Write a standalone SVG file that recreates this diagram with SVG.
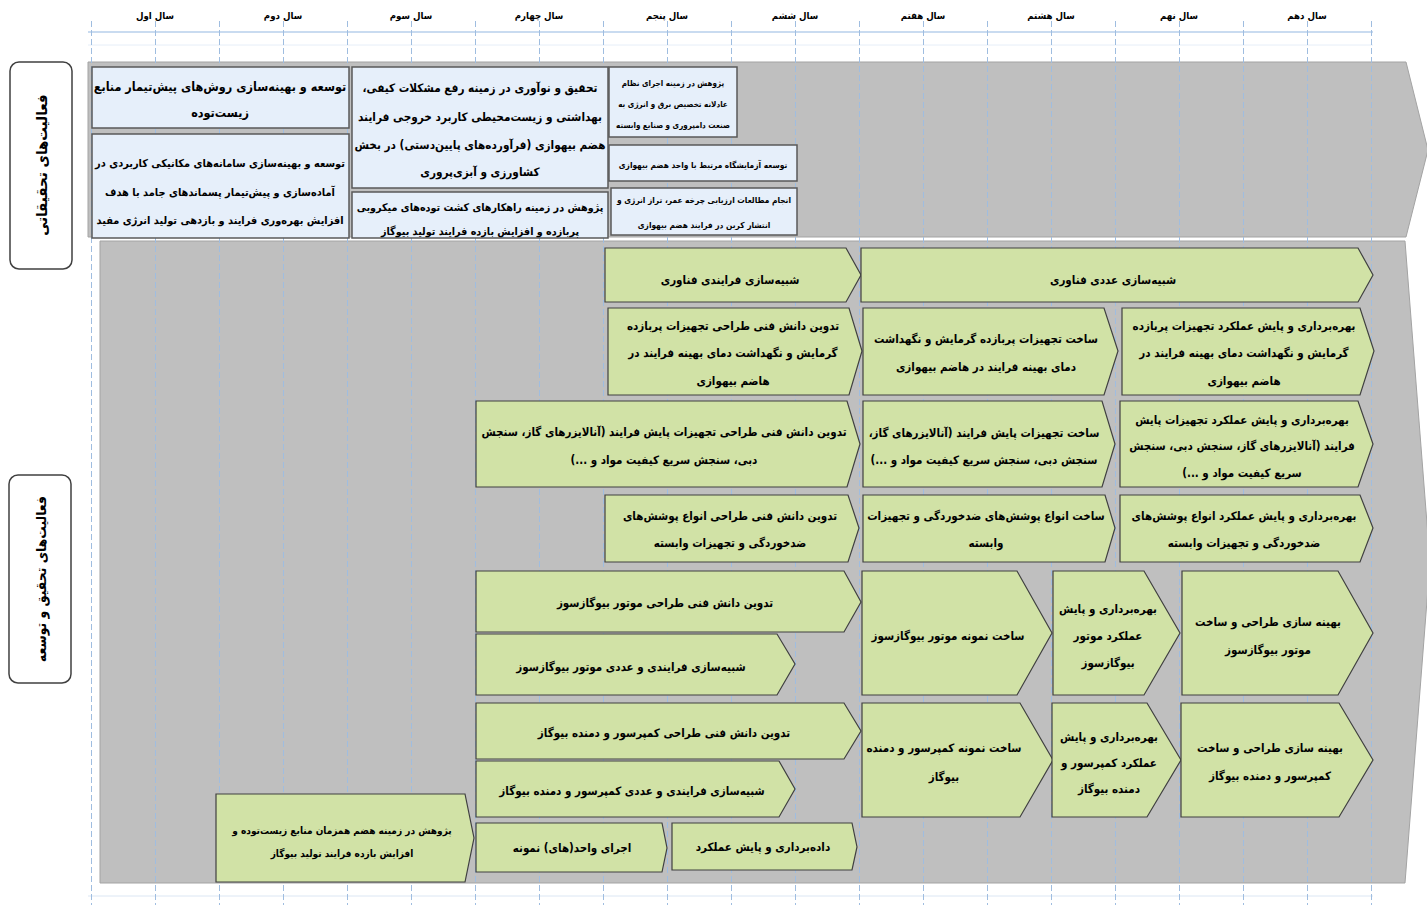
<svg xmlns="http://www.w3.org/2000/svg" width="1427" height="905" viewBox="0 0 1427 905">
<style>
.band{fill:#bfbfbf;stroke:#a3a3a3;stroke-width:1}
.blue{fill:#e6effa;stroke:#595959;stroke-width:1.5}
.green{fill:#d1e2a6;stroke:#404040;stroke-width:1.2}
.lbl{fill:#ffffff;stroke:#404040;stroke-width:1.5}
.t{font-family:'DejaVu Sans Condensed','DejaVu Sans',sans-serif;font-stretch:condensed;font-weight:bold;font-size:11.5px;fill:#000;text-anchor:middle;direction:rtl}
.s{font-size:8px}
.m{font-size:8.3px}
.yr{font-size:9.6px}
.big{font-size:15px}
.big2{font-size:13.8px}
.a{font-size:12.5px}
.b{font-size:10.9px}
.c{font-size:11.7px}
.d{font-size:10.7px}
.p{font-size:10px}
.g{stroke:#9fbde0;stroke-width:1;stroke-dasharray:6 3}
</style>
<rect width="1427" height="905" fill="#ffffff"/>
<g id="bands">
<path class="band" d="M88,62 H1406 L1428,150 L1406,237 H88 Z"/>
<path class="band" d="M100,241 H1405 L1430,562 L1405,883 H100 Z"/>
</g>
<g id="grid">
<line x1="88" y1="32" x2="1373" y2="32" stroke="#c9dbf0" stroke-width="2"/>
<line x1="88" y1="45" x2="1373" y2="45" stroke="#e6eef8" stroke-width="1"/>
<line x1="88" y1="896" x2="1373" y2="896" stroke="#dbe6f3" stroke-width="1"/>
<g class="g">
<line x1="91.5" y1="21" x2="91.5" y2="905"/>
<line x1="155.5" y1="21" x2="155.5" y2="905"/>
<line x1="219.5" y1="21" x2="219.5" y2="905"/>
<line x1="283.5" y1="21" x2="283.5" y2="905"/>
<line x1="347.5" y1="21" x2="347.5" y2="905"/>
<line x1="411.5" y1="21" x2="411.5" y2="905"/>
<line x1="475.5" y1="21" x2="475.5" y2="905"/>
<line x1="539.5" y1="21" x2="539.5" y2="905"/>
<line x1="603.5" y1="21" x2="603.5" y2="905"/>
<line x1="667.5" y1="21" x2="667.5" y2="905"/>
<line x1="731.5" y1="21" x2="731.5" y2="905"/>
<line x1="795.5" y1="21" x2="795.5" y2="905"/>
<line x1="859.5" y1="21" x2="859.5" y2="905"/>
<line x1="923.5" y1="21" x2="923.5" y2="905"/>
<line x1="987.5" y1="21" x2="987.5" y2="905"/>
<line x1="1051.5" y1="21" x2="1051.5" y2="905"/>
<line x1="1115.5" y1="21" x2="1115.5" y2="905"/>
<line x1="1179.5" y1="21" x2="1179.5" y2="905"/>
<line x1="1243.5" y1="21" x2="1243.5" y2="905"/>
<line x1="1307.5" y1="21" x2="1307.5" y2="905"/>
<line x1="1371.5" y1="21" x2="1371.5" y2="905"/>
</g>
</g>
<g id="years" class="t yr">
<text x="155" y="19">سال اول</text>
<text x="283" y="19">سال دوم</text>
<text x="411" y="19">سال سوم</text>
<text x="539" y="19">سال چهارم</text>
<text x="667" y="19">سال پنجم</text>
<text x="795" y="19">سال ششم</text>
<text x="923" y="19">سال هفتم</text>
<text x="1051" y="19">سال هشتم</text>
<text x="1179" y="19">سال نهم</text>
<text x="1307" y="19">سال دهم</text>
</g>
<g id="label-research">
<rect class="lbl" x="10" y="62" width="62" height="207" rx="9"/>
<text class="t big" transform="translate(41,165) rotate(-90)" y="6">فعالیت‌های تحقیقاتی</text>
</g>
<g id="label-rnd">
<rect class="lbl" x="9" y="475" width="62" height="208" rx="9"/>
<text class="t big2" transform="translate(40,579) rotate(-90)" y="6">فعالیت‌های تحقیق و توسعه</text>
</g>
<g id="r1">
<rect class="blue" x="92" y="67" width="257" height="61"/>
<text class="t a" x="220" y="91">توسعه و بهینه‌سازی روش‌های پیش‌تیمار منابع</text>
<text class="t a" x="220" y="117">زیست‌توده</text>
</g>
<g id="r2">
<rect class="blue" x="92" y="134" width="257" height="104"/>
<text class="t b" x="220" y="167">توسعه و بهینه‌سازی سامانه‌های مکانیکی کاربردی در</text>
<text class="t b" x="220" y="196">آماده‌سازی و پیش‌تیمار پسماندهای جامد با هدف</text>
<text class="t b" x="220" y="224">افزایش بهره‌وری فرایند و بازدهی تولید انرژی مفید</text>
</g>
<g id="r3">
<rect class="blue" x="352" y="67" width="256" height="121"/>
<text class="t c" x="480" y="92">تحقیق و نوآوری در زمینه رفع مشکلات کیفی،</text>
<text class="t c" x="480" y="121">بهداشتی و زیست‌محیطی کاربرد خروجی فرایند</text>
<text class="t c" x="480" y="149">هضم بیهوازی (فرآورده‌های پایین‌دستی) در بخش</text>
<text class="t c" x="480" y="176">کشاورزی و آبزی‌پروری</text>
</g>
<g id="r4">
<rect class="blue" x="352" y="192" width="256" height="46"/>
<text class="t d" x="480" y="211">پژوهش در زمینه راهکارهای کشت توده‌های میکروبی</text>
<text class="t d" x="480" y="235">پربازده و افزایش بازده فرایند تولید بیوگاز</text>
</g>
<g id="r5">
<rect class="blue" x="609" y="67" width="128" height="70"/>
<text class="t s" x="673" y="86">پژوهش در زمینه اجرای نظام</text>
<text class="t s" x="673" y="107">عادلانه تخصیص برق و انرژی به</text>
<text class="t s" x="673" y="128">صنعت دامپروری و صنایع وابسته</text>
</g>
<g id="r6">
<rect class="blue" x="609" y="145" width="188" height="36"/>
<text class="t m" x="703" y="168">توسعه آزمایشگاه مرتبط با واحد هضم بیهوازی</text>
</g>
<g id="r7">
<rect class="blue" x="611" y="188" width="186" height="47"/>
<text class="t m" x="704" y="203">انجام مطالعات ارزیابی چرخه عمر، تراز انرژی و</text>
<text class="t m" x="704" y="228">انتشار کربن در فرایند هضم بیهوازی</text>
</g>
<g id="n1">
<path class="green" d="M605,248 H846 L861,275 L846,302 H605 Z"/>
<text class="t" x="730" y="284">شبیه‌سازی فرایندی فناوری</text>
</g>
<g id="n2">
<path class="green" d="M861,248 H1358 L1373,275 L1358,302 H861 Z"/>
<text class="t" x="1113" y="284">شبیه‌سازی عددی فناوری</text>
</g>
<g id="n3">
<path class="green" d="M608,308 H849 L862,351 L849,395 H608 Z"/>
<text class="t" x="733" y="330">تدوین دانش فنی طراحی تجهیزات پربازده</text>
<text class="t" x="733" y="357">گرمایش و نگهداشت دمای بهینه فرایند در</text>
<text class="t" x="733" y="385">هاضم بیهوازی</text>
</g>
<g id="n4">
<path class="green" d="M863,308 H1104 L1118,351 L1104,395 H863 Z"/>
<text class="t" x="986" y="343">ساخت تجهیزات پربازده گرمایش و نگهداشت</text>
<text class="t" x="986" y="371">دمای بهینه فرایند در هاضم بیهوازی</text>
</g>
<g id="n5">
<path class="green" d="M1122,308 H1360 L1374,351 L1360,395 H1122 Z"/>
<text class="t" x="1244" y="330">بهره‌برداری و پایش عملکرد تجهیزات پربازده</text>
<text class="t" x="1244" y="357">گرمایش و نگهداشت دمای بهینه فرایند در</text>
<text class="t" x="1244" y="385">هاضم بیهوازی</text>
</g>
<g id="n6">
<path class="green" d="M476,401 H847 L860,444 L847,487 H476 Z"/>
<text class="t" x="664" y="436">تدوین دانش فنی طراحی تجهیزات پایش فرایند (آنالایزرهای گاز، سنجش</text>
<text class="t" x="664" y="464">دبی، سنجش سریع کیفیت مواد و ...)</text>
</g>
<g id="n7">
<path class="green" d="M863,401 H1102 L1115,444 L1102,487 H863 Z"/>
<text class="t" x="984" y="437">ساخت تجهیزات  پایش فرایند (آنالایزرهای گاز،</text>
<text class="t" x="984" y="464">سنجش دبی، سنجش سریع کیفیت مواد و ...)</text>
</g>
<g id="n8">
<path class="green" d="M1120,401 H1358 L1373,444 L1358,487 H1120 Z"/>
<text class="t" x="1242" y="424">بهره‌برداری و پایش عملکرد تجهیزات پایش</text>
<text class="t" x="1242" y="450">فرایند (آنالایزرهای گاز، سنجش دبی، سنجش</text>
<text class="t" x="1242" y="477">سریع کیفیت مواد و ...)</text>
</g>
<g id="n9">
<path class="green" d="M605,495 H848 L859,528 L848,562 H605 Z"/>
<text class="t" x="730" y="520">تدوین دانش فنی طراحی انواع پوشش‌های</text>
<text class="t" x="730" y="547">ضدخوردگی و تجهیزات وابسته</text>
</g>
<g id="n10">
<path class="green" d="M863,495 H1105 L1115,528 L1105,562 H863 Z"/>
<text class="t" x="986" y="520">ساخت انواع پوشش‌های ضدخوردگی و تجهیزات</text>
<text class="t" x="986" y="547">وابسته</text>
</g>
<g id="n11">
<path class="green" d="M1120,495 H1360 L1373,528 L1360,562 H1120 Z"/>
<text class="t" x="1244" y="520">بهره‌برداری و پایش عملکرد انواع پوشش‌های</text>
<text class="t" x="1244" y="547">ضدخوردگی و تجهیزات وابسته</text>
</g>
<g id="n12">
<path class="green" d="M476,571 H844 L861,602 L844,632 H476 Z"/>
<text class="t" x="665" y="607">تدوین دانش فنی طراحی موتور بیوگازسوز</text>
</g>
<g id="n13">
<path class="green" d="M476,634 H777 L795,664 L777,695 H476 Z"/>
<text class="t" x="631" y="671">شبیه‌سازی فرایندی و عددی موتور بیوگازسوز</text>
</g>
<g id="n14">
<path class="green" d="M862,571 H1017 L1052,633 L1017,695 H862 Z"/>
<text class="t" x="948" y="640">ساخت نمونه موتور بیوگازسوز</text>
</g>
<g id="n15">
<path class="green" d="M1053,571 H1144 L1180,633 L1144,695 H1053 Z"/>
<text class="t" x="1108" y="613">بهره‌برداری و پایش</text>
<text class="t" x="1108" y="640">عملکرد موتور</text>
<text class="t" x="1108" y="667">بیوگازسوز</text>
</g>
<g id="n16">
<path class="green" d="M1182,571 H1338 L1373,633 L1338,695 H1182 Z"/>
<text class="t" x="1268" y="626">بهینه سازی طراحی و ساخت</text>
<text class="t" x="1268" y="654">موتور بیوگازسوز</text>
</g>
<g id="n17">
<path class="green" d="M476,703 H844 L861,731 L844,759 H476 Z"/>
<text class="t" x="664" y="737">تدوین دانش فنی طراحی کمپرسور و دمنده بیوگاز</text>
</g>
<g id="n18">
<path class="green" d="M476,761 H779 L795,789 L779,817 H476 Z"/>
<text class="t" x="632" y="795">شبیه‌سازی فرایندی و عددی کمپرسور و دمنده بیوگاز</text>
</g>
<g id="n19">
<path class="green" d="M862,703 H1020 L1053,760 L1020,817 H862 Z"/>
<text class="t" x="944" y="752">ساخت نمونه کمپرسور و دمنده</text>
<text class="t" x="944" y="781">بیوگاز</text>
</g>
<g id="n20">
<path class="green" d="M1052,703 H1147 L1181,760 L1147,817 H1052 Z"/>
<text class="t" x="1109" y="741">بهره‌برداری و پایش</text>
<text class="t" x="1109" y="767">عملکرد کمپرسور و</text>
<text class="t" x="1109" y="793">دمنده بیوگاز</text>
</g>
<g id="n21">
<path class="green" d="M1181,703 H1339 L1373,760 L1339,817 H1181 Z"/>
<text class="t" x="1270" y="752">بهینه سازی طراحی و ساخت</text>
<text class="t" x="1270" y="780">کمپرسور و دمنده بیوگاز</text>
</g>
<g id="n22">
<path class="green" d="M476,823 H662 L667,848 L662,872 H476 Z"/>
<text class="t" x="572" y="852">اجرای واحد(های) نمونه</text>
</g>
<g id="n23">
<path class="green" d="M672,823 H852 L857,847 L852,870 H672 Z"/>
<text class="t" x="763" y="851">داده‌برداری و پایش عملکرد</text>
</g>
<g id="n24">
<path class="green" d="M216,794 H465 L474,838 L465,882 H216 Z"/>
<text class="t p" x="342" y="834">پژوهش در زمینه هضم همزمان منابع زیست‌توده  و</text>
<text class="t p" x="342" y="857">افزایش بازده فرایند تولید بیوگاز</text>
</g>
</svg>
